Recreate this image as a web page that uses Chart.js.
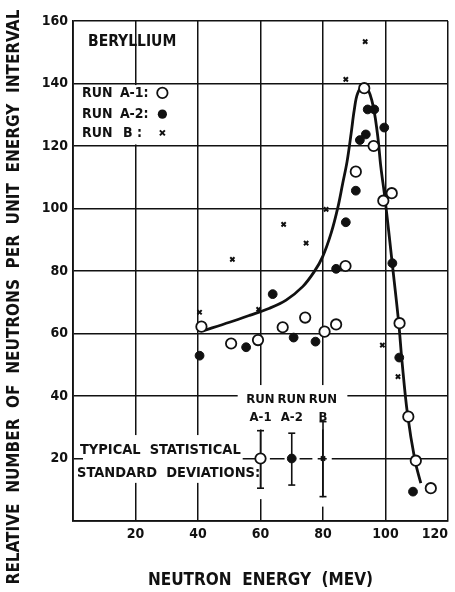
<!DOCTYPE html>
<html>
<head>
<meta charset="utf-8">
<script src="https://cdn.jsdelivr.net/npm/chart.js@4.4.1/dist/chart.umd.min.js"></script>
<style>
  html, body { margin: 0; padding: 0; background: #fff; }
</style>
</head>
<body>
<canvas id="chart" width="455" height="592"></canvas>
<script>
// Run A-1 (open circles)
const runA1X = [41.1, 50.6, 59.2, 67.1, 74.3, 80.5, 84.2, 87.2, 90.5, 93.2, 96.2, 99.3, 102.0, 104.5, 107.3, 109.7, 114.5];
const runA1Y = [62.2, 56.8, 57.9, 62.0, 65.1, 60.6, 62.9, 81.6, 111.8, 138.5, 120.0, 102.5, 104.9, 63.3, 33.4, 19.3, 10.5];

// Run A-2 (filled circles)
const runA2X = [40.5, 55.4, 63.9, 70.6, 77.6, 84.2, 87.3, 90.5, 91.8, 93.7, 94.3, 96.4, 99.6, 102.2, 104.4, 108.8];
const runA2Y = [52.9, 55.6, 72.6, 58.7, 57.4, 80.7, 95.6, 105.7, 121.9, 123.7, 131.7, 131.7, 125.9, 82.5, 52.3, 9.4];

// Run B (crosses)
const runBX = [40.5, 51.0, 59.4, 67.4, 74.6, 81.0, 87.3, 93.5, 99.0, 104.0];
const runBY = [66.8, 83.7, 67.7, 94.9, 88.9, 99.7, 141.3, 153.4, 56.3, 46.2];

// Hand-drawn curve through the data
const curveX = [41.6, 50.1, 56.5, 62.9, 68.2, 73.5, 77.2, 79.9, 82.6, 84.7, 86.3, 87.7, 89.0, 90.0, 91.1, 93.2, 95.6, 97.4, 98.5, 99.9, 102.1, 104.2, 105.3, 107.0, 109.4, 111.3];
const curveY = [60.9, 63.6, 65.8, 68.1, 70.7, 75.0, 79.8, 84.6, 92.1, 100.1, 108.0, 115.0, 124.0, 131.5, 136.9, 139.5, 134.7, 124.1, 113.4, 102.7, 82.9, 63.7, 50.9, 34.5, 19.5, 12.1];

// Typical statistical standard deviations
const errLabels = ["A-1", "A-2", "B"];
const errX = [60, 70, 80];
const errMid = [20, 20, 20];
const errLow = [10.5, 11.5, 7.8];
const errHigh = [28.9, 28.1, 31.8];

const xTicks = [20, 40, 60, 80, 100, 120];
const yTicks = [20, 40, 60, 80, 100, 120, 140, 160];

const INK = "#111";
const FONT = "'DejaVu Sans Condensed', 'DejaVu Sans', sans-serif";
const Y_TITLE = "RELATIVE  NUMBER  OF  NEUTRONS  PER  UNIT  ENERGY  INTERVAL";

Chart.defaults.font.family = FONT;
Chart.defaults.font.weight = "bold";
Chart.defaults.color = INK;

function pts(xs, ys) {
    return xs.map((x, i) => ({ x: x, y: ys[i] }));
}

const openStyle = { pointStyle: "circle", pointRadius: 5.2, pointBackgroundColor: "#fff", pointBorderColor: INK, pointBorderWidth: 1.8 };
const fillStyle = { pointStyle: "circle", pointRadius: 4.4, pointBackgroundColor: INK, pointBorderColor: INK, pointBorderWidth: 1 };
const crossStyle = { pointStyle: "crossRot", pointRadius: 3, pointBorderColor: INK, pointBorderWidth: 2 };
const markStyles = [openStyle, fillStyle, crossStyle];

let datasets = [];

// error bar markers first so they sit on top
errX.forEach((x, i) => {
    datasets.push(Object.assign({ label: "sd " + errLabels[i], data: [{ x: x, y: errMid[i] }], showLine: false }, markStyles[i]));
});
errX.forEach((x, i) => {
    datasets.push({
        label: "bar " + errLabels[i],
        type: "line",
        data: [{ x: x, y: errLow[i] }, { x: x, y: errHigh[i] }],
        borderColor: INK,
        borderWidth: 1.6,
        pointStyle: "line",
        pointRadius: 3.5,
        pointBorderColor: INK,
        pointBorderWidth: 1.6
    });
});

datasets.push(Object.assign({ label: "Run A-1", data: pts(runA1X, runA1Y), showLine: false }, openStyle));
datasets.push(Object.assign({ label: "Run A-2", data: pts(runA2X, runA2Y), showLine: false }, fillStyle));
datasets.push(Object.assign({ label: "Run B", data: pts(runBX, runBY), showLine: false }, crossStyle));
datasets.push({
    label: "curve",
    type: "line",
    data: pts(curveX, curveY),
    borderColor: INK,
    borderWidth: 2.8,
    pointRadius: 0,
    tension: 0.35
});

// white-out parts of the grid and write the notes
const notes = {
    id: "notes",
    beforeDatasetsDraw(chart) {
        const ctx = chart.ctx;
        const x = chart.scales.x;
        const y = chart.scales.y;
        const px = v => x.getPixelForValue(v);
        const py = v => y.getPixelForValue(v);

        function blank(x0, y0, x1, y1) {
            ctx.fillRect(px(x0), py(y1), px(x1) - px(x0), py(y0) - py(y1));
        }

        ctx.save();
        ctx.fillStyle = "#fff";
        blank(0.6, 120.5, 39.4, 139.5);     // legend cell
        blank(3.2, 12.2, 54.3, 27.5);       // statistical text
        blank(52.7, 29.3, 87.8, 43.5);      // RUN labels
        blank(59.3, 7.0, 60.7, 10.3);
        blank(79.3, 4.6, 80.7, 7.6);
        [[61.6, 63.0], [67.7, 69.0], [71.0, 72.5], [76.6, 78.3], [81.2, 82.8]].forEach(g => blank(g[0], 19.3, g[1], 20.7));

        ctx.fillStyle = INK;
        ctx.textBaseline = "middle";
        ctx.font = "bold 15.5px " + FONT;
        ctx.textAlign = "left";
        ctx.fillText("BERYLLIUM", px(4.8), py(153.3));

        ctx.font = "bold 14px " + FONT;
        const rows = [["A-1:", 137.0], ["A-2:", 130.2], ["B :", 124.2]];
        rows.forEach((r, i) => {
            ctx.fillText("RUN", px(2.9), py(r[1]));
            ctx.fillText(r[0], px(i === 2 ? 16.0 : 15.0), py(r[1]));
        });
        // legend markers
        const mx = px(28.6);
        ctx.lineWidth = 1.8;
        ctx.strokeStyle = INK;
        ctx.beginPath();
        ctx.arc(mx, py(137.0), 5.2, 0, Math.PI * 2);
        ctx.fillStyle = "#fff";
        ctx.fill();
        ctx.stroke();
        ctx.fillStyle = INK;
        ctx.beginPath();
        ctx.arc(mx, py(130.2), 4.6, 0, Math.PI * 2);
        ctx.fill();
        ctx.lineWidth = 2;
        const cy = py(124.2);
        ctx.beginPath();
        ctx.moveTo(mx - 2.5, cy - 2.5); ctx.lineTo(mx + 2.5, cy + 2.5);
        ctx.moveTo(mx + 2.5, cy - 2.5); ctx.lineTo(mx - 2.5, cy + 2.5);
        ctx.stroke();

        ctx.font = "bold 13px " + FONT;
        ctx.textAlign = "center";
        errX.forEach((v, i) => {
            ctx.fillText("RUN", px(v), py(39.0));
            ctx.fillText(errLabels[i], px(v), py(33.0));
        });

        ctx.font = "bold 14.5px " + FONT;
        ctx.textAlign = "left";
        ctx.fillText("TYPICAL  STATISTICAL", px(2.2), py(22.7));
        ctx.fillText("STANDARD  DEVIATIONS:", px(1.3), py(15.4));
        ctx.restore();
    },
    afterDraw(chart) {
        // y axis title, centred on the whole page like the original
        const ctx = chart.ctx;
        ctx.save();
        ctx.translate(15, 297);
        ctx.rotate(-Math.PI / 2);
        ctx.fillStyle = INK;
        ctx.font = "bold 17px " + FONT;
        ctx.textAlign = "center";
        ctx.textBaseline = "middle";
        ctx.fillText(Y_TITLE, 0, 0);
        ctx.restore();
    }
};

new Chart(document.getElementById("chart"), {
    type: "scatter",
    data: { datasets: datasets },
    options: {
        responsive: false,
        animation: false,
        layout: { padding: { top: 21, right: 6, left: 0, bottom: 0 } },
        plugins: { legend: { display: false }, tooltip: { enabled: false } },
        scales: {
            x: {
                type: "linear",
                min: 0,
                max: 120,
                afterBuildTicks: s => { s.ticks = [0].concat(xTicks).map(v => ({ value: v })); },
                afterFit: s => { s.height = 71; },
                ticks: {
                    callback: v => (v === 0 ? "" : v),
                    padding: 5,
                    align: "inner",
                    font: { size: 14, weight: "bold" },
                    color: INK
                },
                grid: { color: INK, lineWidth: 1.5, drawTicks: false },
                border: { color: INK, width: 1.8 },
                title: {
                    display: true,
                    text: "NEUTRON  ENERGY  (MEV)",
                    font: { size: 17, weight: "bold" },
                    color: INK,
                    padding: { top: 0, bottom: 1 }
                }
            },
            y: {
                type: "linear",
                min: 0,
                max: 160,
                afterBuildTicks: s => { s.ticks = [0].concat(yTicks).map(v => ({ value: v })); },
                afterFit: s => { s.width = 73; },
                ticks: {
                    callback: v => (v === 0 ? "" : v),
                    padding: 5,
                    font: { size: 14, weight: "bold" },
                    color: INK
                },
                grid: { color: INK, lineWidth: 1.5, drawTicks: false },
                border: { color: INK, width: 1.8 },
                title: { display: false }
            }
        }
    },
    plugins: [notes]
});
</script>
</body>
</html>
